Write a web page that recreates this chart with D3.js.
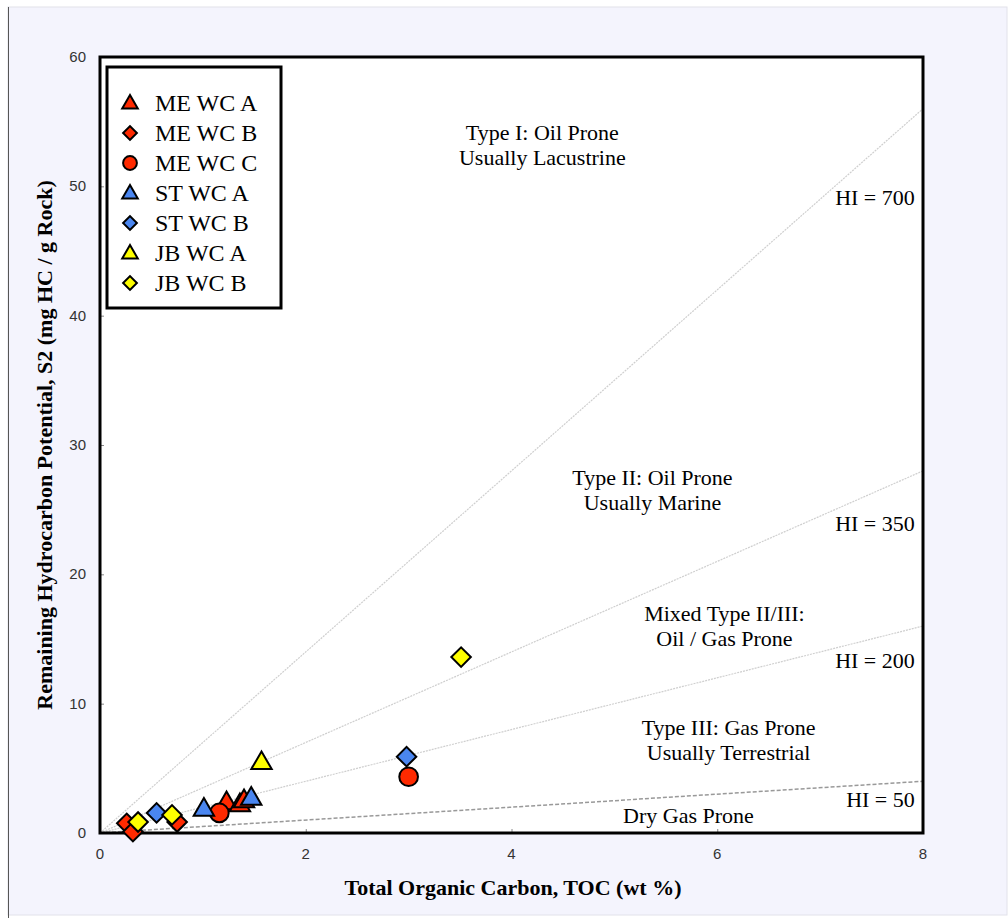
<!DOCTYPE html>
<html>
<head>
<meta charset="utf-8">
<script src="https://cdn.jsdelivr.net/npm/d3@7"></script>
<style>
  html, body { margin: 0; padding: 0; background: #ffffff; }
  svg { display: block; }
</style>
</head>
<body>
<div id="chart"></div>
<script>
"use strict"

// series names, shapes and colours
const seriesNames = ["ME WC A", "ME WC B", "ME WC C", "ST WC A", "ST WC B", "JB WC A", "JB WC B"];
const seriesShapes = ["triangle", "diamond", "circle", "triangle", "diamond", "triangle", "diamond"];
const seriesColors = ["#ff2a00", "#ff2a00", "#ff2a00", "#4a86f0", "#4a86f0", "#ffff00", "#ffff00"];

// points: [TOC, S2]
const meWcA = [[1.23, 2.45], [1.36, 2.3], [1.40, 2.6]];
const meWcB = [[0.26, 0.75], [0.32, 0.1], [0.75, 0.85]];
const meWcC = [[1.16, 1.55], [3.00, 4.35]];
const stWcA = [[1.01, 1.95], [1.47, 2.8]];
const stWcB = [[0.55, 1.55], [2.98, 5.9]];
const jbWcA = [[1.57, 5.55]];
const jbWcB = [[0.37, 0.85], [0.70, 1.4], [3.51, 13.6]];
const seriesData = [meWcA, meWcB, meWcC, stWcA, stWcB, jbWcA, jbWcB];

// hydrogen index lines
const hiValues = [700, 350, 200, 50];

const xTicks = [0, 2, 4, 6, 8];
const yTicks = [0, 10, 20, 30, 40, 50, 60];

// zone annotations: [x, y(data), lines]
const zoneLabels = [
    [4.3, 53.55, ["Type I: Oil Prone", "Usually Lacustrine"]],
    [5.37, 26.9, ["Type II: Oil Prone", "Usually Marine"]],
    [6.07, 16.4, ["Mixed Type II/III:", "Oil / Gas Prone"]],
    [6.11, 7.6, ["Type III: Gas Prone", "Usually Terrestrial"]],
    [5.72, 0.75, ["Dry Gas Prone"]]
];
const hiLabels = [
    [7.92, 48.55, "HI = 700"],
    [7.92, 23.35, "HI = 350"],
    [7.92, 12.75, "HI = 200"],
    [7.92, 2.0, "HI = 50"]
];

const W = 1008, H = 918;
const margin = { left: 100, right: 85, top: 57, bottom: 85 };

const svg = d3.select("#chart").append("svg")
    .attr("width", W)
    .attr("height", H);

// page background and frame
svg.append("rect")
    .attr("x", 0).attr("y", 0).attr("width", W).attr("height", H)
    .style("fill", "#ffffff");
svg.append("rect")
    .attr("x", 8).attr("y", 7).attr("width", W - 9).attr("height", H - 10)
    .style("fill", "#f4f4fd")
    .style("stroke", "#e2e2ea")
    .style("stroke-width", "1px");
svg.append("line")
    .attr("x1", 8.5).attr("y1", 7).attr("x2", 8.5).attr("y2", H)
    .style("stroke", "#555")
    .style("stroke-width", "1px");

const x = d3.scaleLinear().domain([0, 8]).range([margin.left, W - margin.right]);
const y = d3.scaleLinear().domain([0, 60]).range([H - margin.bottom, margin.top]);

// plot area
svg.append("rect")
    .attr("x", x(0)).attr("y", y(60))
    .attr("width", x(8) - x(0)).attr("height", y(0) - y(60))
    .style("fill", "#ffffff");

svg.append("clipPath").attr("id", "plotClip")
    .append("rect")
    .attr("x", x(0)).attr("y", y(60))
    .attr("width", x(8) - x(0)).attr("height", y(0) - y(60));

// HI lines
for (let hi of hiValues) {
    svg.append("line")
        .attr("clip-path", "url(#plotClip)")
        .attr("x1", x(0)).attr("y1", y(0))
        .attr("x2", x(8)).attr("y2", y(8 * hi / 100))
        .style("stroke", hi === 50 ? "#999" : "#cfcfcf")
        .style("stroke-width", hi === 50 ? "1.5px" : "1.2px")
        .style("stroke-dasharray", hi === 50 ? "4,2" : "2,1");
}

// axes (inward ticks)
svg.append("g")
    .attr("transform", "translate(0," + y(0) + ")")
    .call(d3.axisTop(x).tickValues(xTicks).tickSize(4).tickFormat(""));
svg.append("g")
    .attr("transform", "translate(" + x(0) + ",0)")
    .call(d3.axisRight(y).tickValues(yTicks).tickSize(4).tickFormat(""));
svg.selectAll(".domain").remove();
svg.selectAll(".tick line").style("stroke", "#888");

const sans = "Liberation Sans, Arial, sans-serif";
const serif = "Liberation Serif, Times New Roman, serif";

svg.selectAll(".xTickLabel").data(xTicks).enter().append("text")
    .attr("x", d => x(d)).attr("y", y(0) + 26)
    .attr("text-anchor", "middle")
    .style("font-family", sans)
    .style("font-size", "15px")
    .style("fill", "#333")
    .text(d => d);

svg.selectAll(".yTickLabel").data(yTicks).enter().append("text")
    .attr("x", x(0) - 14).attr("y", d => y(d) + 5)
    .attr("text-anchor", "end")
    .style("font-family", sans)
    .style("font-size", "15px")
    .style("fill", "#333")
    .text(d => d);

// frame of plot area
svg.append("rect")
    .attr("x", x(0)).attr("y", y(60))
    .attr("width", x(8) - x(0)).attr("height", y(0) - y(60))
    .style("fill", "none")
    .style("stroke", "black")
    .style("stroke-width", "3px");

// axis titles
svg.append("text")
    .attr("x", 513).attr("y", 895)
    .attr("text-anchor", "middle")
    .style("font-family", serif)
    .style("font-weight", "bold")
    .style("font-size", "22px")
    .text("Total Organic Carbon, TOC (wt %)");

svg.append("text")
    .attr("transform", "translate(52," + y(30) + ") rotate(-90)")
    .attr("text-anchor", "middle")
    .style("font-family", serif)
    .style("font-weight", "bold")
    .style("font-size", "22px")
    .text("Remaining Hydrocarbon Potential, S2 (mg HC / g Rock)");

// annotations
for (let z of zoneLabels) {
    let t = svg.append("text")
        .attr("text-anchor", "middle")
        .style("font-family", serif)
        .style("font-size", "22px");
    z[2].forEach((line, i) => {
        t.append("tspan")
            .attr("x", x(z[0]))
            .attr("y", y(z[1]) + i * 25)
            .text(line);
    });
}
for (let h of hiLabels) {
    svg.append("text")
        .attr("x", x(h[0])).attr("y", y(h[1]))
        .attr("text-anchor", "end")
        .style("font-family", serif)
        .style("font-size", "22px")
        .text(h[2]);
}

// markers
function symbolFor(shape) {
    if (shape === "triangle") return d3.symbol().type(d3.symbolTriangle).size(180);
    if (shape === "diamond") return d3.symbol().type(d3.symbolSquare).size(190);
    return d3.symbol().type(d3.symbolCircle).size(275);
}

function drawMarker(g, shape, color, cx, cy) {
    let rot = shape === "diamond" ? " rotate(45)" : "";
    let dy = shape === "triangle" ? 2 : 0;
    g.append("path")
        .attr("d", symbolFor(shape)())
        .attr("transform", "translate(" + cx + "," + (cy + dy) + ")" + rot)
        .style("fill", color)
        .style("stroke", "black")
        .style("stroke-width", "2px")
        .style("stroke-linejoin", "miter");
}

const markerLayer = svg.append("g");
seriesData.forEach((pts, i) => {
    for (let p of pts) {
        drawMarker(markerLayer, seriesShapes[i], seriesColors[i], x(p[0]), y(p[1]));
    }
});

// legend
const legend = svg.append("g");
legend.append("rect")
    .attr("x", 107).attr("y", 67).attr("width", 174).attr("height", 241)
    .style("fill", "#ffffff")
    .style("stroke", "black")
    .style("stroke-width", "3px");
seriesNames.forEach((name, i) => {
    let ly = 103 + i * 30;
    let shape = seriesShapes[i];
    let sym = shape === "triangle" ? d3.symbol().type(d3.symbolTriangle).size(105)
        : shape === "diamond" ? d3.symbol().type(d3.symbolSquare).size(95)
        : d3.symbol().type(d3.symbolCircle).size(150);
    legend.append("path")
        .attr("d", sym())
        .attr("transform", "translate(130," + (ly + (shape === "triangle" ? 1 : 0)) + ")" + (shape === "diamond" ? " rotate(45)" : ""))
        .style("fill", seriesColors[i])
        .style("stroke", "black")
        .style("stroke-width", "2px");
    legend.append("text")
        .attr("x", 155).attr("y", ly + 8)
        .style("font-family", serif)
        .style("font-size", "24px")
        .text(name);
});
</script>
</body>
</html>
